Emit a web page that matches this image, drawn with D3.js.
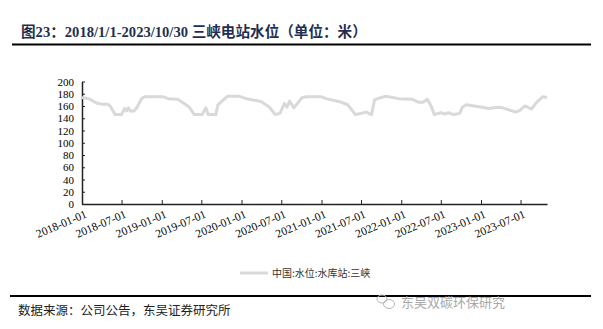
<!DOCTYPE html>
<html>
<head>
<meta charset="utf-8">
<script src="https://cdn.jsdelivr.net/npm/d3@7"></script>
<style>
  body { margin: 0; background: #fff; }
  svg { display: block; }
</style>
</head>
<body>
<svg id="chart" width="603" height="329"></svg>
<script>
// water level of Three Gorges station
const dates = [
  '2018-01-01','2018-02-01','2018-03-08','2018-04-01','2018-04-28','2018-05-10','2018-06-01','2018-07-01',
  '2018-07-15','2018-07-24','2018-08-01','2018-08-10','2018-08-28','2018-09-10','2018-10-01','2018-10-15',
  '2019-01-08','2019-02-01','2019-03-15','2019-04-05','2019-05-08','2019-05-30','2019-07-05','2019-07-22',
  '2019-08-01','2019-09-05','2019-09-15','2019-10-01','2019-10-30','2019-12-20','2020-01-22','2020-03-08',
  '2020-04-01','2020-05-08','2020-06-03','2020-06-25','2020-07-15','2020-07-27','2020-08-08','2020-08-28',
  '2020-09-08','2020-10-05','2020-10-25','2020-11-25','2021-01-01','2021-01-22','2021-03-25','2021-05-01',
  '2021-06-05','2021-07-01','2021-07-25','2021-08-18','2021-09-01','2021-09-15','2021-10-22','2021-12-20',
  '2022-02-20','2022-03-22','2022-04-10','2022-05-01','2022-05-20','2022-06-01','2022-07-01','2022-07-20',
  '2022-08-05','2022-08-20','2022-09-01','2022-09-25','2022-10-08','2022-10-25','2023-01-05','2023-02-05',
  '2023-03-20','2023-04-10','2023-05-15','2023-06-10','2023-06-28','2023-07-20','2023-08-03','2023-08-20',
  '2023-09-12','2023-10-10','2023-10-30'
];
const levels = [
  174, 172, 165, 163, 163, 160, 146, 146,
  156, 152, 157, 152, 152, 158, 172, 175,
  175, 172, 171, 166, 158, 146, 146, 157,
  146, 146, 162, 167, 176, 176, 172, 169,
  167, 158, 146, 148, 164, 158, 168, 157,
  162, 174, 175, 175, 175, 172, 167, 162,
  146, 148, 150, 146, 170, 172, 176, 172,
  171, 166, 166, 171, 158, 146, 149, 147,
  149, 147, 146, 148, 158, 162, 158, 156,
  158, 157, 153, 150, 153, 160, 158, 155,
  166, 175, 174
];
const yTicks = [0, 20, 40, 60, 80, 100, 120, 140, 160, 180, 200];
const titleText = '图23：2018/1/1-2023/10/30 三峡电站水位（单位：米）';
const seriesName = '中国:水位:水库站:三峡';
const sourceText = '数据来源：公司公告，东吴证券研究所';
const watermark = '东吴双碳环保研究';

const parse = d3.timeParse('%Y-%m-%d');
const data = dates.map((d, i) => ({ date: parse(d), value: levels[i] }));

const svg = d3.select('#chart');
const serif = '"Liberation Serif", "Noto Sans CJK SC", serif';
const cjk = '"Noto Sans CJK SC", sans-serif';

// title + rules
svg.append('text')
  .attr('x', 21).attr('y', 37)
  .attr('font-family', serif)
  .attr('font-weight', 'bold')
  .attr('font-size', 14.6)
  .attr('fill', '#1f2f52')
  .text(titleText);
svg.append('line').attr('x1', 12).attr('x2', 591).attr('y1', 44.5).attr('y2', 44.5)
  .attr('stroke', '#000').attr('stroke-width', 2);
svg.append('line').attr('x1', 10).attr('x2', 591).attr('y1', 296).attr('y2', 296)
  .attr('stroke', '#000').attr('stroke-width', 2);

// scales
const x = d3.scaleTime()
  .domain([parse('2018-01-01'), parse('2023-10-30')])
  .range([82, 547]);
const y = d3.scaleLinear().domain([0, 200]).range([204, 81.5]);

// x axis
const gx = svg.append('g')
  .attr('transform', 'translate(0,204)')
  .call(d3.axisBottom(x)
    .ticks(d3.timeMonth.every(6))
    .tickFormat(d3.timeFormat('%Y-%m-%d'))
    .tickSizeInner(-4).tickSizeOuter(0));
gx.select('.domain').attr('stroke', '#222').attr('stroke-width', 1.5);
gx.selectAll('.tick line').attr('stroke', '#222');
gx.selectAll('.tick text')
  .attr('font-family', serif).attr('font-size', 11.5).attr('fill', '#000')
  .attr('text-anchor', 'end')
  .attr('transform', 'translate(5,13) rotate(-23)')
  .attr('dy', 0).attr('y', 0).attr('x', 0);

// y axis
const gy = svg.append('g')
  .attr('transform', 'translate(82,0)')
  .call(d3.axisLeft(y).tickValues(yTicks).tickSizeInner(-3).tickSizeOuter(0).tickPadding(8));
gy.select('.domain').attr('stroke', '#222').attr('stroke-width', 1.5);
gy.selectAll('.tick line').attr('stroke', '#222');
gy.selectAll('.tick text')
  .attr('font-family', serif).attr('font-size', 11).attr('fill', '#000');

// series
const line = d3.line().x(d => x(d.date)).y(d => y(d.value));
svg.append('path')
  .datum(data)
  .attr('d', line)
  .attr('fill', 'none')
  .attr('stroke', '#d9d9d9')
  .attr('stroke-width', 3)
  .attr('stroke-linejoin', 'round');

// legend
svg.append('line').attr('x1', 240).attr('x2', 268).attr('y1', 273).attr('y2', 273)
  .attr('stroke', '#d9d9d9').attr('stroke-width', 3);
svg.append('text')
  .attr('x', 272).attr('y', 277)
  .attr('font-family', cjk).attr('font-size', 10).attr('fill', '#333')
  .text(seriesName);

// source
svg.append('text')
  .attr('x', 18).attr('y', 315)
  .attr('font-family', cjk).attr('font-size', 12.5).attr('fill', '#222')
  .text(sourceText);

// watermark
const wm = svg.append('g').attr('fill', 'none').attr('stroke', '#b5b5b5').attr('stroke-width', 1);
wm.append('ellipse').attr('cx', 382).attr('cy', 299).attr('rx', 5).attr('ry', 4);
wm.append('ellipse').attr('cx', 389).attr('cy', 304).attr('rx', 5.5).attr('ry', 4.5);
svg.append('text')
  .attr('x', 401).attr('y', 307)
  .attr('font-family', cjk).attr('font-size', 13).attr('fill', '#a8a8a8')
  .text(watermark);
</script>
</body>
</html>
